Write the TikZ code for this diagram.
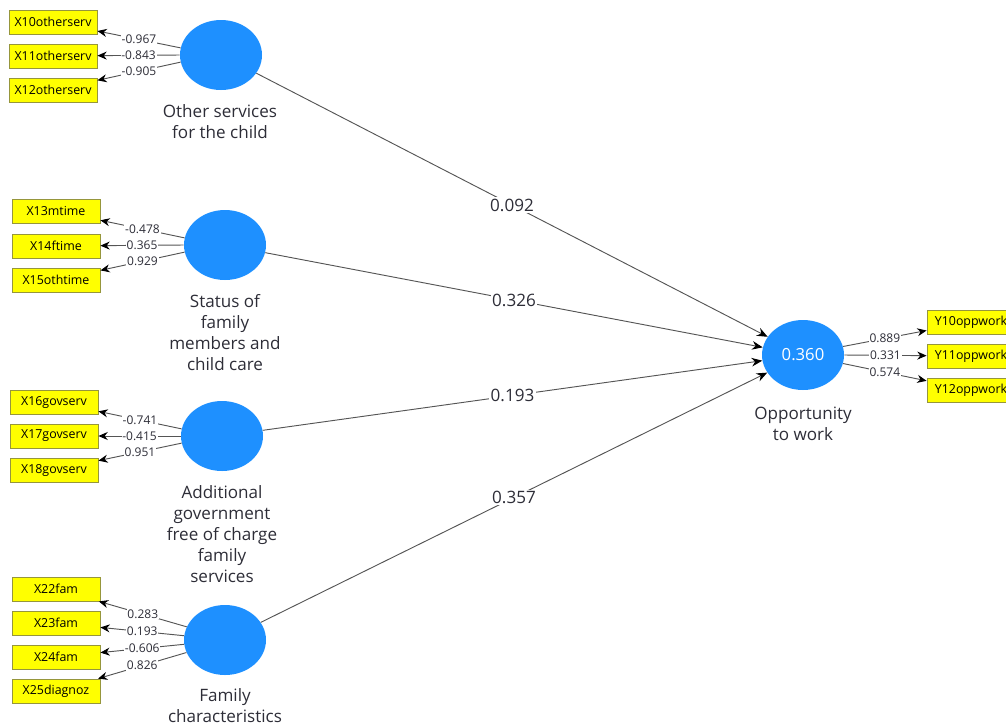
\documentclass[tikz,border=0pt]{standalone}
\usepackage{fontspec}
\setmainfont{Open Sans}
\usetikzlibrary{shapes.geometric,arrows.meta}
\definecolor{lvblue}{RGB}{30,144,255}
\definecolor{mvyellow}{RGB}{255,255,0}
\definecolor{mvborder}{RGB}{150,150,60}
\definecolor{txtgray}{RGB}{45,45,55}
\definecolor{linegray}{RGB}{85,85,85}
\tikzset{
  mv/.style={draw=mvborder,fill=mvyellow,line width=0.6pt,minimum width=66pt,minimum height=18pt,inner sep=0pt,font=\fontsize{9.3}{11}\selectfont,text=black},
  lv/.style={ellipse,fill=lvblue,minimum width=61.5pt,minimum height=52.5pt,inner sep=0pt},
  lvlabel/.style={align=center,font=\fontsize{12.8}{15.75}\selectfont,text=txtgray},
  load/.style={draw=linegray,line width=0.7pt,-{Stealth[length=7pt,width=6pt,color=black]}},
  path/.style={draw=linegray,line width=0.7pt,-{Stealth[length=8pt,width=6.5pt,color=black]}},
  ll/.style={fill=white,inner sep=0.6pt,font=\fontsize{9}{10}\selectfont,text=txtgray},
  pl/.style={fill=white,inner sep=1pt,font=\fontsize{12.8}{14}\selectfont,text=txtgray}
}
\begin{document}
\begin{tikzpicture}[x=0.75pt,y=-0.75pt]
\useasboundingbox (0,0) rectangle (1006,722);
\clip (0,0) rectangle (1006,722);
% latent variables
\node[lv] (c1) at (221,55) {};
\node[lv] (c2) at (225,245) {};
\node[lv] (c3) at (222,436) {};
\node[lv] (c4) at (225,640) {};
\node[lv,text=white,font=\fontsize{12.5}{14}\selectfont] (opp) at (803,355) {0.360};
% labels
\node[lvlabel] (t1) at (220,122) {Other services\\for the child};
\node[lvlabel] (t2) at (225,332.5) {Status of\\family\\members and\\child care};
\node[lvlabel] (t3) at (222,534) {Additional\\government\\free of charge\\family\\services};
\node[lvlabel] (t4) at (225,706) {Family\\characteristics};
\node[lvlabel] (t5) at (803,423.5) {Opportunity\\to work};
% indicators
\node[mv] (x10) at (53,22) {X10otherserv};
\node[mv] (x11) at (53,56) {X11otherserv};
\node[mv] (x12) at (53,90) {X12otherserv};
\node[mv] (x13) at (56,211) {X13mtime};
\node[mv] (x14) at (56,246) {X14ftime};
\node[mv] (x15) at (56,280) {X15othtime};
\node[mv] (x16) at (54,402) {X16govserv};
\node[mv] (x17) at (54,436) {X17govserv};
\node[mv] (x18) at (54,470) {X18govserv};
\node[mv] (x22) at (56,589) {X22fam};
\node[mv] (x23) at (56,623) {X23fam};
\node[mv] (x24) at (56,657) {X24fam};
\node[mv] (x25) at (56,691) {X25diagnoz};
\node[mv] (y10) at (971,322) {Y10oppwork};
\node[mv] (y11) at (971,356) {Y11oppwork};
\node[mv] (y12) at (971,390) {Y12oppwork};
% loadings
\draw[load] (c1.170) -- node[ll] {-0.967} (x10);
\draw[load] (c1.180) -- node[ll] {-0.843} (x11);
\draw[load] (c1.190) -- node[ll] {-0.905} (x12);
\draw[load] (c2.170) -- node[ll] {-0.478} (x13);
\draw[load] (c2.180) -- node[ll] {0.365} (x14);
\draw[load] (c2.190) -- node[ll] {0.929} (x15);
\draw[load] (c3.170) -- node[ll] {-0.741} (x16);
\draw[load] (c3.180) -- node[ll] {-0.415} (x17);
\draw[load] (c3.190) -- node[ll] {0.951} (x18);
\draw[load] (c4.161) -- node[ll] {0.283} (x22);
\draw[load] (c4.174) -- node[ll] {0.193} (x23);
\draw[load] (c4.186) -- node[ll] {-0.606} (x24);
\draw[load] (c4.198) -- node[ll] {0.826} (x25);
\draw[load] (opp.12) -- node[ll] {0.889} (y10);
\draw[load] (opp.0) -- node[ll] {0.331} (y11);
\draw[load] (opp.-12) -- node[ll] {0.574} (y12);
% paths
\draw[path] (c1) -- node[pl] {0.092} (opp);
\draw[path] (c2) -- node[pl] {0.326} (opp);
\draw[path] (c3) -- node[pl] {0.193} (opp);
\draw[path] (c4) -- node[pl] {0.357} (opp);
\end{tikzpicture}
\end{document}
